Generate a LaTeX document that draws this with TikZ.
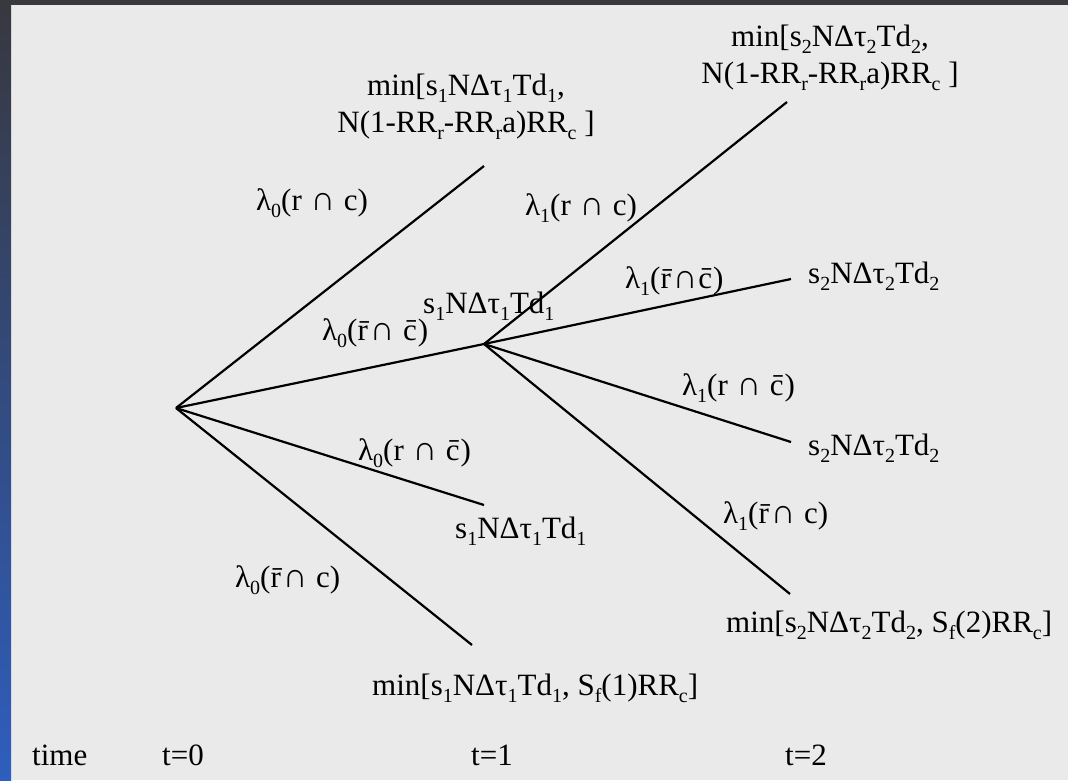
\documentclass[tikz,border=0pt]{standalone}
\usepackage{fontspec}
\setmainfont{Liberation Serif}
\newcommand\sbx[1]{\raisebox{-0.24em}{\fontsize{20}{20}\selectfont #1}}
\newcommand\obar[1]{\=#1\kern1pt}
\newcommand\capx{\kern1pt{\fontsize{34}{37}\selectfont ∩}\kern1pt}
\begin{document}
\begin{tikzpicture}[x=1pt,y=-1pt,
  branch/.style={line width=2.2pt},
  lbl/.style={inner sep=0pt,anchor=base west,font=\fontsize{31}{37}\selectfont},
  lbl2/.style={inner sep=0pt,anchor=base,align=center,font=\fontsize{31}{37}\selectfont}]
\useasboundingbox (0,0) rectangle (1068,780);
\fill[fill={rgb,255:red,234;green,234;blue,234}] (0,0) rectangle (1068,780);
\fill[fill={rgb,255:red,56;green,56;blue,62}] (0,0) rectangle (1068,5);
\shade[top color={rgb,255:red,56;green,56;blue,62},bottom color={rgb,255:red,46;green,94;blue,190}] (0,0) rectangle (11,780);
% branch points
\coordinate (r) at (176,408);
\coordinate (n1) at (484,344);
\coordinate (u1) at (484,166);
\coordinate (l1) at (484,505);
\coordinate (b1) at (472,645);
\coordinate (u2) at (787,102);
\coordinate (m2) at (791,279);
\coordinate (d2) at (791,442);
\coordinate (b2) at (790,594);
\draw[branch] (r) -- (u1);
\draw[branch] (r) -- (n1);
\draw[branch] (r) -- (l1);
\draw[branch] (r) -- (b1);
\draw[branch] (n1) -- (u2);
\draw[branch] (n1) -- (m2);
\draw[branch] (n1) -- (d2);
\draw[branch] (n1) -- (b2);
% outcomes
\node[lbl2] (o1) at (466,132) {min[s\sbx{1}NΔτ\sbx{1}Td\sbx{1},\\N(1-RR\sbx{r}-RR\sbx{r}a)RR\sbx{c} ]};
\node[lbl2] (o2) at (830,83) {min[s\sbx{2}NΔτ\sbx{2}Td\sbx{2},\\N(1-RR\sbx{r}-RR\sbx{r}a)RR\sbx{c} ]};
\node[lbl] (o3) at (423,313) {s\sbx{1}NΔτ\sbx{1}Td\sbx{1}};
\node[lbl] (o4) at (808,283) {s\sbx{2}NΔτ\sbx{2}Td\sbx{2}};
\node[lbl] (o5) at (808,455) {s\sbx{2}NΔτ\sbx{2}Td\sbx{2}};
\node[lbl] (o6) at (726,632) {min[s\sbx{2}NΔτ\sbx{2}Td\sbx{2}, S\sbx{f}(2)RR\sbx{c}]};
\node[lbl] (o7) at (455,538) {s\sbx{1}NΔτ\sbx{1}Td\sbx{1}};
\node[lbl] (o8) at (372,695) {min[s\sbx{1}NΔτ\sbx{1}Td\sbx{1}, S\sbx{f}(1)RR\sbx{c}]};
% probabilities
\node[lbl] (p1) at (256,210) {λ\sbx{0}(r \capx{} c)};
\node[lbl] (p2) at (322,340) {λ\sbx{0}(\obar{r}\capx{} \obar{c})};
\node[lbl] (p3) at (358,460) {λ\sbx{0}(r \capx{} \obar{c})};
\node[lbl] (p4) at (235,587) {λ\sbx{0}(\obar{r}\capx{} c)};
\node[lbl] (p5) at (525,215) {λ\sbx{1}(r \capx{} c)};
\node[lbl] (p6) at (625,288) {λ\sbx{1}(\obar{r}\capx\obar{c})};
\node[lbl] (p7) at (682,395) {λ\sbx{1}(r \capx{} \obar{c})};
\node[lbl] (p8) at (723,523) {λ\sbx{1}(\obar{r}\capx{} c)};
% time axis
\node[lbl] (tm) at (32,765) {time};
\node[lbl] (t0) at (162,765) {t=0};
\node[lbl] (t1) at (471,765) {t=1};
\node[lbl] (t2) at (785,765) {t=2};
\end{tikzpicture}
\end{document}
